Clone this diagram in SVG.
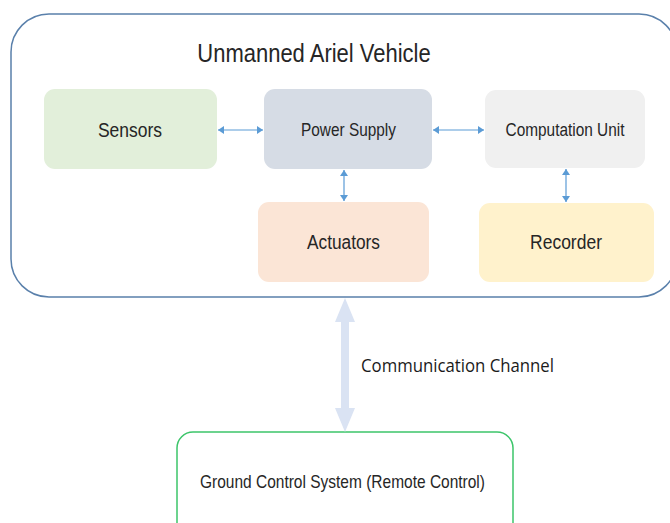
<svg xmlns="http://www.w3.org/2000/svg" width="670" height="523" viewBox="0 0 670 523">
<defs>
<style>
.box{stroke:none}
.lbl{font-family:"Liberation Sans",Arial,sans-serif;fill:#262626;text-anchor:middle}
.con{stroke:#5b9bd5;stroke-width:1.2;fill:none}
</style>
<marker id="ah" viewBox="0 0 6 8" refX="6" refY="4" markerWidth="6" markerHeight="8" markerUnits="userSpaceOnUse" orient="auto-start-reverse">
<path d="M0,0 L6,4 L0,8 z" fill="#5b9bd5"/>
</marker>
</defs>
<rect width="670" height="523" fill="#ffffff"/>
<g id="uav">
<rect x="11" y="14" width="666" height="283" rx="38" ry="38" fill="#ffffff" stroke="#5a80ab" stroke-width="1.5"/>
<text class="lbl" transform="translate(314,62) scale(1,1.2)" font-size="22">Unmanned Ariel Vehicle</text>
</g>
<g id="sensors">
<rect class="box" x="44" y="89" width="173" height="80" rx="11" fill="#e2efda"/>
<text class="lbl" transform="translate(130,137) scale(1,1.2)" font-size="17.5">Sensors</text>
</g>
<g id="power">
<rect class="box" x="264" y="89" width="168" height="80" rx="11" fill="#d6dce5"/>
<text class="lbl" transform="translate(348.5,136) scale(1,1.2)" font-size="15.4">Power Supply</text>
</g>
<g id="computation">
<rect class="box" x="485" y="90" width="160" height="78" rx="11" fill="#f0f0f0"/>
<text class="lbl" transform="translate(565,136) scale(1,1.2)" font-size="15.4">Computation Unit</text>
</g>
<g id="actuators">
<rect class="box" x="258" y="202" width="171" height="80" rx="11" fill="#fbe5d6"/>
<text class="lbl" transform="translate(343.5,249) scale(1,1.2)" font-size="17.3">Actuators</text>
</g>
<g id="recorder">
<rect class="box" x="479" y="203" width="175" height="79" rx="11" fill="#fff2cc"/>
<text class="lbl" transform="translate(566,249) scale(1,1.2)" font-size="17.5">Recorder</text>
</g>
<g id="ground">
<rect x="177" y="432" width="336" height="110" rx="16" fill="#ffffff" stroke="#3cc56a" stroke-width="1.5"/>
<text class="lbl" transform="translate(342.5,488) scale(1,1.2)" font-size="15.5">Ground Control System (Remote Control)</text>
</g>
<g id="connectors">
<line class="con" x1="218" y1="130" x2="263" y2="130" marker-start="url(#ah)" marker-end="url(#ah)"/>
<line class="con" x1="433" y1="130" x2="484" y2="130" marker-start="url(#ah)" marker-end="url(#ah)"/>
<line class="con" x1="344" y1="170" x2="344" y2="201" marker-start="url(#ah)" marker-end="url(#ah)"/>
<line class="con" x1="566" y1="169" x2="566" y2="202" marker-start="url(#ah)" marker-end="url(#ah)"/>
<path d="M345,298 L355,322 L349,322 L349,408 L355,408 L345,432 L335,408 L341,408 L341,322 L335,322 z" fill="#dae3f3"/>
<text transform="translate(361,372) scale(1,1.2)" font-family="'Open Sans','Noto Sans',sans-serif" font-size="15.5" fill="#1a1a1a" textLength="193" lengthAdjust="spacingAndGlyphs">Communication Channel</text>
</g>
</svg>
